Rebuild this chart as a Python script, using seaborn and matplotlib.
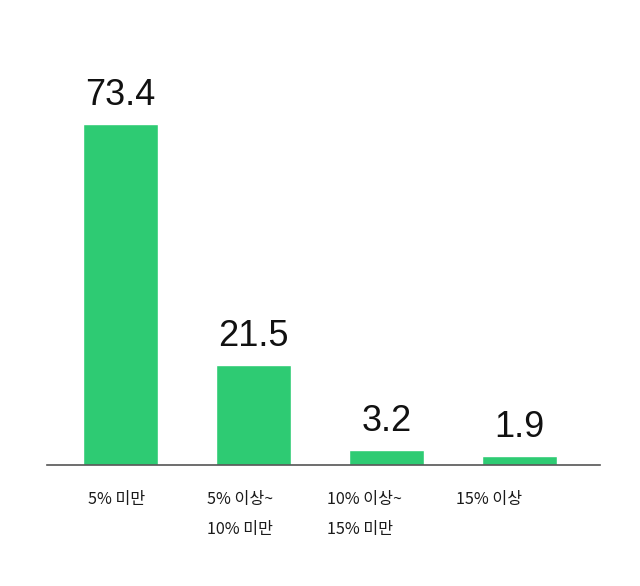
import matplotlib; matplotlib.use('agg')
import matplotlib.pyplot as plt
import matplotlib.transforms as mtransforms
import seaborn as sns
import pandas as pd

sns.set_theme(style="white")
plt.rcParams['font.family'] = ['Noto Sans CJK KR', 'DejaVu Sans']

categories = ['5% 미만', '5% 이상~\n10% 미만', '10% 이상~\n15% 미만', '15% 이상']
values = [73.4, 21.5, 3.2, 1.9]
label_shift_px = [-4, -13, -22, -30]

df = pd.DataFrame({'category': categories, 'value': values})

fig = plt.figure(figsize=(6.4, 5.86), dpi=100)
ax = fig.add_axes([0.0734, 0.2065, 0.8641, 0.69])

sns.barplot(data=df, x='category', y='value', color='#2ecb73',
            saturation=1, width=0.57, ax=ax)

ax.set_xlim(-0.553, 3.605)
ax.set_ylim(0, 87)
ax.set_xlabel('')
ax.set_ylabel('')
ax.set_yticks([])

for side in ['top', 'right', 'left']:
    ax.spines[side].set_visible(False)
ax.spines['bottom'].set_color('#555555')
ax.spines['bottom'].set_linewidth(1.2)

ax.tick_params(axis='x', length=0, pad=19, labelsize=11.6, colors='#1a1a1a')
for lbl, dx in zip(ax.get_xticklabels(), label_shift_px):
    lbl.set_multialignment('left')
    lbl.set_linespacing(2.0)
    lbl.set_transform(lbl.get_transform() +
                      mtransforms.ScaledTranslation(dx / 100, 0, fig.dpi_scale_trans))

for i, v in enumerate(values):
    ax.annotate(f'{v}', (i, v), xytext=(0, 8), textcoords='offset points',
                ha='center', va='bottom', fontsize=26, color='#111111',
                family=['Liberation Sans', 'DejaVu Sans'])

fig.savefig('out.png', dpi=100, facecolor='white')
